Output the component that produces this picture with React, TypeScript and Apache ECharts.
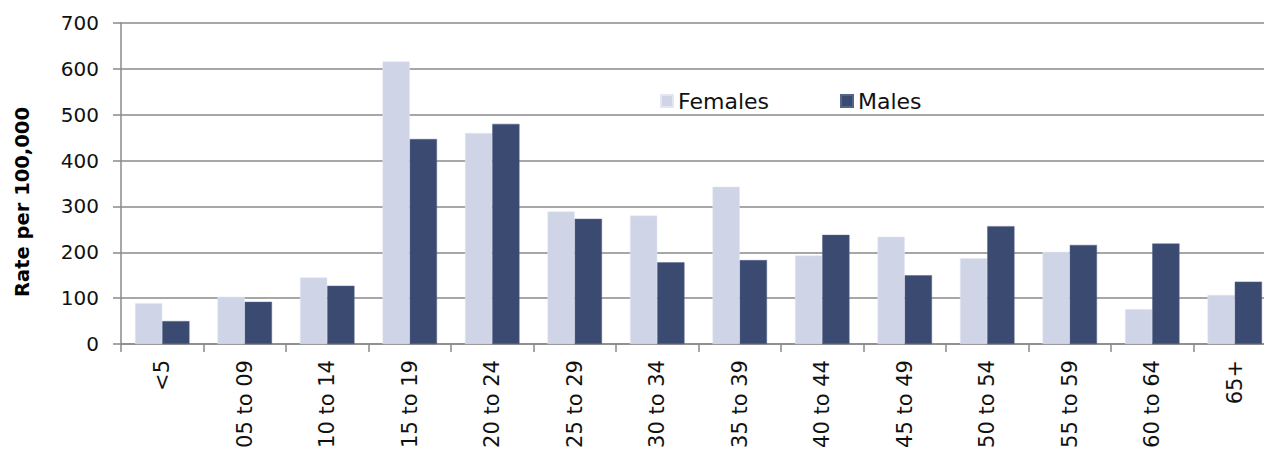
import React, { useEffect, useRef } from "react";
import * as echarts from "echarts";

const categories = ["<5", "05 to 09", "10 to 14", "15 to 19", "20 to 24", "25 to 29", "30 to 34", "35 to 39", "40 to 44", "45 to 49", "50 to 54", "55 to 59", "60 to 64", "65+"];
const females = [89, 103, 145, 616, 460, 289, 280, 343, 193, 234, 187, 201, 76, 107];
const males = [50, 92, 127, 447, 480, 273, 178, 183, 238, 150, 257, 216, 219, 136];
const seriesNames = ["Females", "Males"];
const yTicks = { min: 0, max: 700, interval: 100 };
const yTitle = "Rate per 100,000";

const FONT = "DejaVu Sans";
const GRID = "#8a8a8a";

export default function App() {
  const ref = useRef<HTMLDivElement>(null);
  useEffect(() => {
    if (!ref.current) return;
    const chart = echarts.init(ref.current, null, { renderer: "svg" });
    chart.setOption({
      animation: false,
      grid: { left: 121, right: 0, top: 23, bottom: 108, containLabel: false },
      legend: {
        left: 660,
        top: 90,
        padding: 0,
        itemWidth: 12,
        itemHeight: 12,
        itemGap: 71,
        icon: "rect",
        textStyle: { fontFamily: FONT, fontSize: 22, color: "#111" },
        data: seriesNames,
      },
      graphic: [
        {
          type: "text",
          x: 22,
          y: 202,
          rotation: Math.PI / 2,
          style: {
            text: yTitle,
            fontFamily: FONT,
            fontWeight: "bold",
            fontSize: 19.5,
            fill: "#000",
            align: "center",
            verticalAlign: "middle",
          },
        },
      ],
      xAxis: {
        type: "category",
        data: categories,
        axisLine: { lineStyle: { color: GRID, width: 1.5 } },
        axisTick: { show: true, length: 8, lineStyle: { color: GRID, width: 1.5 } },
        axisLabel: {
          interval: 0,
          rotate: 90,
          margin: 16,
          fontFamily: FONT,
          fontSize: 21,
          color: "#111",
        },
      },
      yAxis: {
        type: "value",
        min: yTicks.min,
        max: yTicks.max,
        interval: yTicks.interval,
        axisLine: { show: true, lineStyle: { color: GRID, width: 1.5 } },
        axisTick: { show: true, length: 8, lineStyle: { color: GRID, width: 1.5 } },
        splitLine: { show: true, lineStyle: { color: GRID, width: 1.5 } },
        axisLabel: { margin: 22, fontFamily: FONT, fontSize: 20, color: "#111" },
      },
      series: [
        {
          name: seriesNames[0],
          type: "bar",
          data: females,
          barGap: "0%",
          barCategoryGap: "34%",
          itemStyle: { color: "#cfd5e7", borderColor: "#e2e6f1", borderWidth: 0.5 },
        },
        {
          name: seriesNames[1],
          type: "bar",
          data: males,
          barGap: "0%",
          barCategoryGap: "34%",
          itemStyle: { color: "#3a4a70", borderColor: "#56648a", borderWidth: 0.5 },
        },
      ],
    });
    return () => chart.dispose();
  }, []);
  return (
    <div style={{ position: "fixed", left: 0, top: 0, width: 1264, height: 452, overflow: "hidden", background: "#fff" }}>
      <div ref={ref} style={{ width: 1276, height: 452 }} />
    </div>
  );
}
